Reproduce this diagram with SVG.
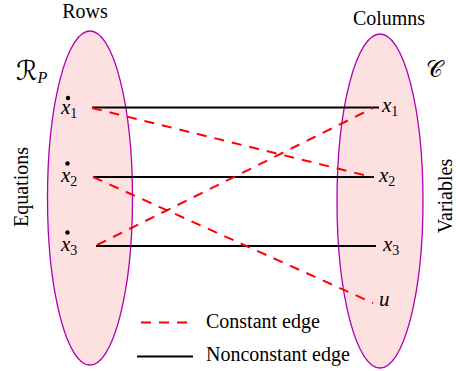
<svg xmlns="http://www.w3.org/2000/svg" width="456" height="371" viewBox="0 0 456 371">
<style>
.set{fill:#fde1e1;stroke:#b000b0;stroke-width:1.3}
.solid{stroke:#000;stroke-width:2;fill:none}
.dash{stroke:#f00;stroke-width:2;stroke-dasharray:10 8;fill:none}
.t{font-family:"Liberation Serif","Times New Roman",serif;font-size:20px;fill:#000}
.m{font-family:"Liberation Serif","Times New Roman",serif;font-size:21px;font-style:italic;fill:#000}
.sub{font-style:normal;font-size:14px}
.cal{font-family:"DejaVu Serif","DejaVu Sans",serif;fill:#000}
</style>
<g id="rows-set">
<ellipse class="set" cx="90" cy="198" rx="42.5" ry="167"/>
<text class="t" x="85" y="18" text-anchor="middle">Rows</text>
<text class="cal" x="16" y="80" font-size="27">ℛ<tspan font-family="Liberation Serif" font-style="italic" font-size="16" dy="3">P</tspan></text>
<text class="t" transform="translate(28,187) rotate(-90)" text-anchor="middle">Equations</text>
</g>
<g id="cols-set">
<ellipse class="set" cx="380" cy="201" rx="43" ry="167"/>
<text class="t" x="389" y="25" text-anchor="middle">Columns</text>
<text class="cal" x="426" y="77" font-size="23">𝒞</text>
<text class="t" transform="translate(452,196) rotate(-90)" text-anchor="middle">Variables</text>
</g>
<g id="connectors">
<line class="solid" x1="92" y1="107.5" x2="379" y2="107.5"/>
<line class="solid" x1="93" y1="177" x2="374" y2="177"/>
<line class="solid" x1="96" y1="246" x2="376" y2="246"/>
<line class="dash" x1="92" y1="108" x2="372" y2="177"/>
<line class="dash" x1="93" y1="177" x2="373" y2="303"/>
<line class="dash" x1="97" y1="245" x2="373" y2="108"/>
</g>
<g id="row-x1">
<circle cx="68" cy="98" r="2.2"/>
<text class="m" x="61" y="114">x<tspan class="sub" dy="4">1</tspan></text>
</g>
<g id="row-x2">
<circle cx="67.5" cy="163.5" r="2.2"/>
<text class="m" x="61" y="182">x<tspan class="sub" dy="4">2</tspan></text>
</g>
<g id="row-x3">
<circle cx="67.5" cy="232.5" r="2.2"/>
<text class="m" x="61" y="251">x<tspan class="sub" dy="4">3</tspan></text>
</g>
<g id="col-x1"><text class="m" x="382" y="112">x<tspan class="sub" dy="4">1</tspan></text></g>
<g id="col-x2"><text class="m" x="379" y="182">x<tspan class="sub" dy="4">2</tspan></text></g>
<g id="col-x3"><text class="m" x="383" y="251">x<tspan class="sub" dy="4">3</tspan></text></g>
<g id="col-u"><text class="m" x="379" y="306">u</text></g>
<g id="legend">
<line class="dash" x1="141" y1="322.5" x2="187" y2="322.5"/>
<text class="t" x="206" y="328">Constant edge</text>
<line class="solid" x1="137" y1="356.5" x2="193" y2="356.5"/>
<text class="t" x="206" y="361">Nonconstant edge</text>
</g>
</svg>
